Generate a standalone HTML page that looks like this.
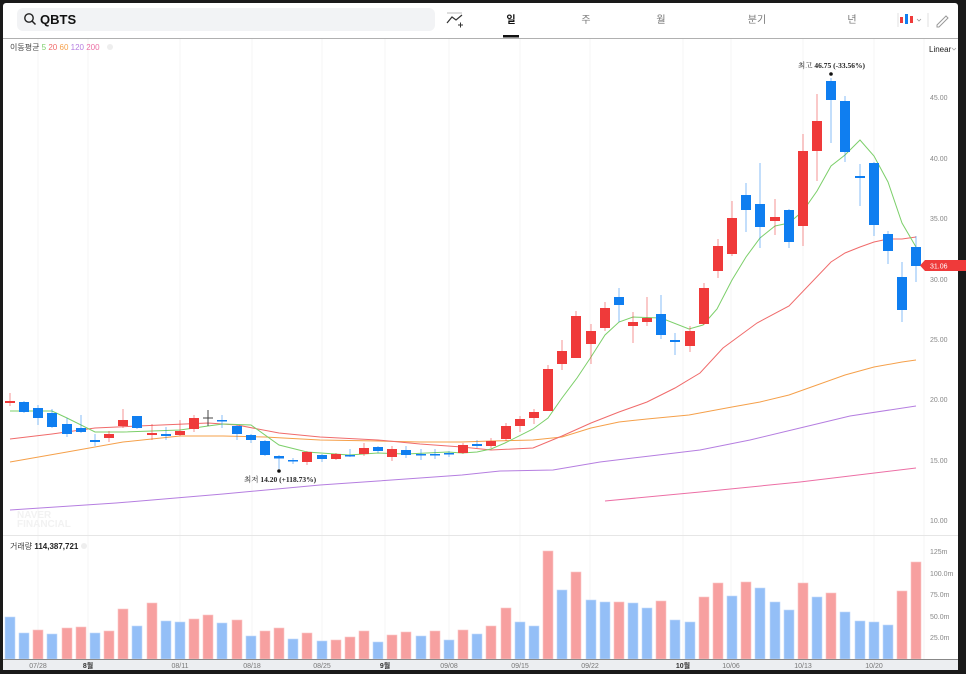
<!DOCTYPE html>
<html><head><meta charset="utf-8"><style>
body{margin:0;background:#1a1a1a;}
svg{display:block;font-family:"Liberation Sans","Noto Sans CJK KR",sans-serif;}
</style></head><body>
<svg width="966" height="674" viewBox="0 0 966 674" xmlns="http://www.w3.org/2000/svg">
<rect x="0" y="0" width="966" height="674" fill="#1a1a1a"/>
<rect x="3" y="3" width="955" height="667" fill="#fff" rx="3"/>
<!-- header -->
<rect x="17" y="8" width="418" height="23" rx="6" fill="#f2f3f5"/>
<circle cx="29" cy="18" r="4.2" fill="none" stroke="#222" stroke-width="1.4"/>
<line x1="32" y1="21" x2="35.5" y2="24.5" stroke="#222" stroke-width="1.5"/>
<text x="40" y="24" font-size="13" font-weight="bold" fill="#111">QBTS</text>
<polyline points="447,23 452,17 456,20 462,15" fill="none" stroke="#333" stroke-width="1.2"/>
<line x1="447" y1="13" x2="462" y2="13" stroke="#aaa" stroke-width="0.8"/>
<line x1="458" y1="25" x2="463" y2="25" stroke="#333" stroke-width="1"/><line x1="460.5" y1="22.5" x2="460.5" y2="27.5" stroke="#333" stroke-width="1"/>
<g font-size="10" fill="#777" text-anchor="middle">
<text x="511" y="23" fill="#111" font-weight="bold">일</text>
<text x="586" y="23">주</text><text x="661" y="23">월</text><text x="757" y="23">분기</text><text x="852" y="23">년</text>
</g>
<rect x="503" y="35" width="16" height="2.5" fill="#111"/>
<line x1="898" y1="13" x2="898" y2="27" stroke="#e0e0e0"/>
<rect x="900" y="17" width="3" height="6" fill="#ef3a3a"/><rect x="905" y="14" width="3" height="10" fill="#0f7ef0"/><rect x="910" y="16" width="3" height="7" fill="#ef3a3a"/>
<polyline points="917,19 919,21 921,19" fill="none" stroke="#999" stroke-width="0.8"/>
<line x1="928" y1="13" x2="928" y2="27" stroke="#e0e0e0"/>
<path d="M937,25 L946,16 L948,18 L939,27 L937,27 Z" fill="none" stroke="#999" stroke-width="1"/>
<line x1="3" y1="38.5" x2="958" y2="38.5" stroke="#b0b0b0" stroke-width="1"/>
<!-- grid -->
<g stroke="#f5f5f5" stroke-width="1">
<line x1="38" y1="39" x2="38" y2="659"/><line x1="88" y1="39" x2="88" y2="659"/><line x1="180" y1="39" x2="180" y2="659"/><line x1="252" y1="39" x2="252" y2="659"/><line x1="322" y1="39" x2="322" y2="659"/><line x1="385" y1="39" x2="385" y2="659"/><line x1="449" y1="39" x2="449" y2="659"/><line x1="520" y1="39" x2="520" y2="659"/><line x1="590" y1="39" x2="590" y2="659"/><line x1="683" y1="39" x2="683" y2="659"/><line x1="731" y1="39" x2="731" y2="659"/><line x1="803" y1="39" x2="803" y2="659"/><line x1="874" y1="39" x2="874" y2="659"/>
<line x1="924" y1="39" x2="924" y2="659"/>
</g>
<line x1="3" y1="535.5" x2="958" y2="535.5" stroke="#e6e6e6"/>
<!-- legend -->
<text x="10" y="50" font-size="8" fill="#444">이동평균 <tspan fill="#7ccf6a">5</tspan> <tspan fill="#f06b6b">20</tspan> <tspan fill="#f5a04a">60</tspan> <tspan fill="#b57ee0">120</tspan> <tspan fill="#ec6fa5">200</tspan></text>
<circle cx="110" cy="47" r="3" fill="#eee"/>
<text x="929" y="52" font-size="8" fill="#222">Linear</text>
<polyline points="952,48 954,50 956,48" fill="none" stroke="#999" stroke-width="0.7"/>
<!-- price axis -->
<g font-size="7" fill="#888">
<text x="930" y="100">45.00</text><text x="930" y="161">40.00</text><text x="930" y="221">35.00</text><text x="930" y="282">30.00</text><text x="930" y="342">25.00</text><text x="930" y="402">20.00</text><text x="930" y="463">15.00</text><text x="930" y="523">10.00</text>
<text x="930" y="554">125m</text><text x="930" y="576">100.0m</text><text x="930" y="597">75.0m</text><text x="930" y="619">50.0m</text><text x="930" y="640">25.0m</text>
</g>
<!-- watermark -->
<text x="17" y="518" font-size="10" font-weight="bold" fill="#f2f2f2">NAVER</text>
<text x="17" y="527" font-size="10" font-weight="bold" fill="#f2f2f2">FINANCIAL</text>
<!-- MAs -->
<g fill="none" stroke-width="1">
<polyline stroke="#ec6fa5" points="605,501 700,492 800,482 916,468"/>
<polyline stroke="#b57ee0" points="10,510 116,503 223,494 320,485 378,481 420,478 462,475 500,471 553,470 600,462 650,456 700,450 750,440 800,428 850,416 916,406"/>
<polyline stroke="#f5a04a" points="10,462 67,452 123,442 180,436 223,436 265,437 320,440 378,441 420,442 462,442 491,441 533,440 562,437 591,428 619,422 647,419 689,415 732,407 760,402 789,395 817,385 845,375 874,367 902,362 916,360"/>
<polyline stroke="#f06b6b" points="10,439 52,434 95,428 138,426 208,423 237,425 279,433 320,437 378,440 420,444 462,447 491,450 533,448 562,436 591,423 619,412 647,402 675,388 700,373 723,348 757,323 789,306 831,262 845,253 860,247 874,242 888,239 902,239 916,237"/>
<polyline stroke="#7ccf6a" points="10,411 52,411 67,418 95,432 123,432 180,430 208,426 223,424 251,425 279,445 307,452 349,455 378,453 406,454 448,452 462,453 477,452 491,449 505,443 533,429 548,418 562,398 577,378 591,357 605,335 619,322 633,317 661,318 689,329 703,325 717,309 732,280 746,257 760,238 775,226 789,223 803,211 817,191 831,166 845,155 860,140 874,156 888,182 902,223 916,247"/>
</g>
<!-- candles -->
<g>
<g stroke="#ef3a3a" stroke-opacity="0.55" stroke-width="1">
<line x1="10" y1="393" x2="10" y2="406"/><line x1="109" y1="431" x2="109" y2="442"/><line x1="123" y1="409" x2="123" y2="428"/><line x1="152" y1="424" x2="152" y2="440"/><line x1="180" y1="420" x2="180" y2="436"/><line x1="194" y1="415" x2="194" y2="432"/><line x1="307" y1="451" x2="307" y2="465"/><line x1="336" y1="453" x2="336" y2="460"/><line x1="364" y1="443" x2="364" y2="456"/><line x1="392" y1="446" x2="392" y2="461"/><line x1="463" y1="443" x2="463" y2="454"/><line x1="491" y1="438" x2="491" y2="448"/><line x1="506" y1="423" x2="506" y2="441"/><line x1="520" y1="416" x2="520" y2="432"/><line x1="534" y1="409" x2="534" y2="424"/><line x1="548" y1="365" x2="548" y2="411"/><line x1="562" y1="340" x2="562" y2="370"/><line x1="576" y1="311" x2="576" y2="358"/><line x1="591" y1="324" x2="591" y2="364"/><line x1="605" y1="302" x2="605" y2="331"/><line x1="633" y1="312" x2="633" y2="343"/><line x1="647" y1="297" x2="647" y2="326"/><line x1="690" y1="326" x2="690" y2="352"/><line x1="704" y1="283" x2="704" y2="325"/><line x1="718" y1="239" x2="718" y2="278"/><line x1="732" y1="201" x2="732" y2="256"/><line x1="775" y1="199" x2="775" y2="235"/><line x1="803" y1="134" x2="803" y2="246"/><line x1="817" y1="94" x2="817" y2="181"/>
</g>
<g stroke="#0f7ef0" stroke-opacity="0.5" stroke-width="1">
<line x1="24" y1="401" x2="24" y2="413"/><line x1="38" y1="405" x2="38" y2="425"/><line x1="52" y1="409" x2="52" y2="428"/><line x1="67" y1="418" x2="67" y2="437"/><line x1="81" y1="415" x2="81" y2="433"/><line x1="95" y1="434" x2="95" y2="446"/><line x1="137" y1="416" x2="137" y2="429"/><line x1="166" y1="427" x2="166" y2="440"/><line x1="222" y1="415" x2="222" y2="428"/><line x1="237" y1="425" x2="237" y2="440"/><line x1="251" y1="434" x2="251" y2="443"/><line x1="265" y1="440" x2="265" y2="456"/><line x1="279" y1="455" x2="279" y2="469"/><line x1="293" y1="458" x2="293" y2="464"/><line x1="322" y1="454" x2="322" y2="462"/><line x1="350" y1="449" x2="350" y2="457"/><line x1="378" y1="446" x2="378" y2="453"/><line x1="406" y1="446" x2="406" y2="458"/><line x1="421" y1="449" x2="421" y2="460"/><line x1="435" y1="449" x2="435" y2="459"/><line x1="449" y1="451" x2="449" y2="457"/><line x1="477" y1="440" x2="477" y2="448"/><line x1="619" y1="288" x2="619" y2="322"/><line x1="661" y1="295" x2="661" y2="339"/><line x1="675" y1="333" x2="675" y2="355"/><line x1="746" y1="183" x2="746" y2="232"/><line x1="760" y1="163" x2="760" y2="248"/><line x1="789" y1="209" x2="789" y2="248"/><line x1="831" y1="78" x2="831" y2="143"/><line x1="845" y1="96" x2="845" y2="162"/><line x1="860" y1="164" x2="860" y2="206"/><line x1="874" y1="162" x2="874" y2="236"/><line x1="888" y1="231" x2="888" y2="264"/><line x1="902" y1="262" x2="902" y2="322"/><line x1="916" y1="236" x2="916" y2="282"/>
</g>
<line x1="208" y1="410" x2="208" y2="426" stroke="#444" stroke-width="1"/><line x1="203" y1="418" x2="213" y2="418" stroke="#444" stroke-width="1"/>
<g fill="#ef3a3a">
<rect x="5" y="401" width="10" height="2"/><rect x="104" y="434" width="10" height="4"/><rect x="118" y="420" width="10" height="6"/><rect x="147" y="433" width="10" height="2"/><rect x="175" y="431" width="10" height="4"/><rect x="189" y="418" width="10" height="11"/><rect x="302" y="452" width="10" height="10"/><rect x="331" y="454" width="10" height="5"/><rect x="359" y="448" width="10" height="6"/><rect x="387" y="449" width="10" height="8"/><rect x="458" y="445" width="10" height="8"/><rect x="486" y="441" width="10" height="5"/><rect x="501" y="426" width="10" height="13"/><rect x="515" y="419" width="10" height="7"/><rect x="529" y="412" width="10" height="6"/><rect x="543" y="369" width="10" height="42"/><rect x="557" y="351" width="10" height="13"/><rect x="571" y="316" width="10" height="42"/><rect x="586" y="331" width="10" height="13"/><rect x="600" y="308" width="10" height="20"/><rect x="628" y="322" width="10" height="4"/><rect x="642" y="318" width="10" height="4"/><rect x="685" y="331" width="10" height="15"/><rect x="699" y="288" width="10" height="36"/><rect x="713" y="246" width="10" height="25"/><rect x="727" y="218" width="10" height="36"/><rect x="770" y="217" width="10" height="4"/><rect x="798" y="151" width="10" height="75"/><rect x="812" y="121" width="10" height="30"/>
</g>
<g fill="#0f7ef0">
<rect x="19" y="402" width="10" height="10"/><rect x="33" y="408" width="10" height="10"/><rect x="47" y="413" width="10" height="14"/><rect x="62" y="424" width="10" height="10"/><rect x="76" y="428" width="10" height="4"/><rect x="90" y="440" width="10" height="2"/><rect x="132" y="416" width="10" height="12"/><rect x="161" y="434" width="10" height="2"/><rect x="217" y="420" width="10" height="1.5"/><rect x="232" y="426" width="10" height="8"/><rect x="246" y="435" width="10" height="5"/><rect x="260" y="441" width="10" height="14"/><rect x="274" y="456" width="10" height="2.5"/><rect x="288" y="460" width="10" height="1.5"/><rect x="317" y="455" width="10" height="4"/><rect x="345" y="455" width="10" height="1.5"/><rect x="373" y="447" width="10" height="4"/><rect x="401" y="450" width="10" height="5"/><rect x="416" y="454" width="10" height="1.5"/><rect x="430" y="454" width="10" height="1.5"/><rect x="444" y="453" width="10" height="1.5"/><rect x="472" y="444" width="10" height="2"/><rect x="614" y="297" width="10" height="8"/><rect x="656" y="314" width="10" height="21"/><rect x="670" y="340" width="10" height="2"/><rect x="741" y="195" width="10" height="15"/><rect x="755" y="204" width="10" height="23"/><rect x="784" y="210" width="10" height="32"/><rect x="826" y="81" width="10" height="19"/><rect x="840" y="101" width="10" height="51"/><rect x="855" y="176" width="10" height="2"/><rect x="869" y="163" width="10" height="62"/><rect x="883" y="234" width="10" height="17"/><rect x="897" y="277" width="10" height="33"/><rect x="911" y="247" width="10" height="19"/>
</g>
</g>
<!-- annotations -->
<circle cx="831" cy="74" r="1.8" fill="#111"/>
<text x="798" y="68" font-size="7.5" fill="#222" font-family="Liberation Serif,Noto Serif CJK SC,serif">최고  <tspan font-weight="bold">46.75 (-33.56%)</tspan></text>
<circle cx="279" cy="471" r="1.8" fill="#111"/>
<text x="244" y="482" font-size="7.5" fill="#222" font-family="Liberation Serif,Noto Serif CJK SC,serif">최저  <tspan font-weight="bold">14.20 (+118.73%)</tspan></text>
<!-- current price tag -->
<path d="M920,265.5 L925,260 L966,260 L966,271 L925,271 Z" fill="#ef3a3a"/>
<text x="930" y="268.5" font-size="7" fill="#fff">31.06</text>
<!-- volume -->
<text x="10" y="549" font-size="8" fill="#444">거래량 <tspan font-weight="bold" fill="#222">114,387,721</tspan></text>
<circle cx="84" cy="546" r="3" fill="#eee"/>
<g fill="#94bff7" stroke="#c4dbfa" stroke-width="0.6">
<rect x="5" y="617" width="10" height="42"/><rect x="19" y="633" width="10" height="26"/><rect x="47" y="634" width="10" height="25"/><rect x="90" y="633" width="10" height="26"/><rect x="132" y="626" width="10" height="33"/><rect x="161" y="621" width="10" height="38"/><rect x="175" y="622" width="10" height="37"/><rect x="217" y="623" width="10" height="36"/><rect x="246" y="636" width="10" height="23"/><rect x="288" y="639" width="10" height="20"/><rect x="317" y="641" width="10" height="18"/><rect x="373" y="642" width="10" height="17"/><rect x="416" y="636" width="10" height="23"/><rect x="444" y="640" width="10" height="19"/><rect x="472" y="634" width="10" height="25"/><rect x="515" y="622" width="10" height="37"/><rect x="529" y="626" width="10" height="33"/><rect x="557" y="590" width="10" height="69"/><rect x="586" y="600" width="10" height="59"/><rect x="600" y="602" width="10" height="57"/><rect x="628" y="603" width="10" height="56"/><rect x="642" y="608" width="10" height="51"/><rect x="670" y="620" width="10" height="39"/><rect x="685" y="622" width="10" height="37"/><rect x="727" y="596" width="10" height="63"/><rect x="755" y="588" width="10" height="71"/><rect x="770" y="602" width="10" height="57"/><rect x="784" y="610" width="10" height="49"/><rect x="812" y="597" width="10" height="62"/><rect x="840" y="612" width="10" height="47"/><rect x="855" y="621" width="10" height="38"/><rect x="869" y="622" width="10" height="37"/><rect x="883" y="625" width="10" height="34"/>
</g>
<g fill="#f7a0a0" stroke="#fac6c6" stroke-width="0.6">
<rect x="33" y="630" width="10" height="29"/><rect x="62" y="628" width="10" height="31"/><rect x="76" y="627" width="10" height="32"/><rect x="104" y="631" width="10" height="28"/><rect x="118" y="609" width="10" height="50"/><rect x="147" y="603" width="10" height="56"/><rect x="189" y="619" width="10" height="40"/><rect x="203" y="615" width="10" height="44"/><rect x="232" y="620" width="10" height="39"/><rect x="260" y="631" width="10" height="28"/><rect x="274" y="628" width="10" height="31"/><rect x="302" y="633" width="10" height="26"/><rect x="331" y="640" width="10" height="19"/><rect x="345" y="637" width="10" height="22"/><rect x="359" y="631" width="10" height="28"/><rect x="387" y="635" width="10" height="24"/><rect x="401" y="632" width="10" height="27"/><rect x="430" y="631" width="10" height="28"/><rect x="458" y="630" width="10" height="29"/><rect x="486" y="626" width="10" height="33"/><rect x="501" y="608" width="10" height="51"/><rect x="543" y="551" width="10" height="108"/><rect x="571" y="572" width="10" height="87"/><rect x="614" y="602" width="10" height="57"/><rect x="656" y="601" width="10" height="58"/><rect x="699" y="597" width="10" height="62"/><rect x="713" y="583" width="10" height="76"/><rect x="741" y="582" width="10" height="77"/><rect x="798" y="583" width="10" height="76"/><rect x="826" y="593" width="10" height="66"/><rect x="897" y="591" width="10" height="68"/><rect x="911" y="562" width="10" height="97"/>
</g>
<!-- x axis -->
<rect x="3" y="659" width="955" height="11" fill="#eceef1"/>
<line x1="3" y1="659.5" x2="958" y2="659.5" stroke="#888"/>
<g font-size="7" fill="#777" text-anchor="middle">
<text x="38" y="668">07/28</text><text x="88" y="668" font-weight="bold" fill="#333">8월</text><text x="180" y="668">08/11</text><text x="252" y="668">08/18</text><text x="322" y="668">08/25</text><text x="385" y="668" font-weight="bold" fill="#333">9월</text><text x="449" y="668">09/08</text><text x="520" y="668">09/15</text><text x="590" y="668">09/22</text><text x="683" y="668" font-weight="bold" fill="#333">10월</text><text x="731" y="668">10/06</text><text x="803" y="668">10/13</text><text x="874" y="668">10/20</text>
</g>
</svg>
</body></html>
